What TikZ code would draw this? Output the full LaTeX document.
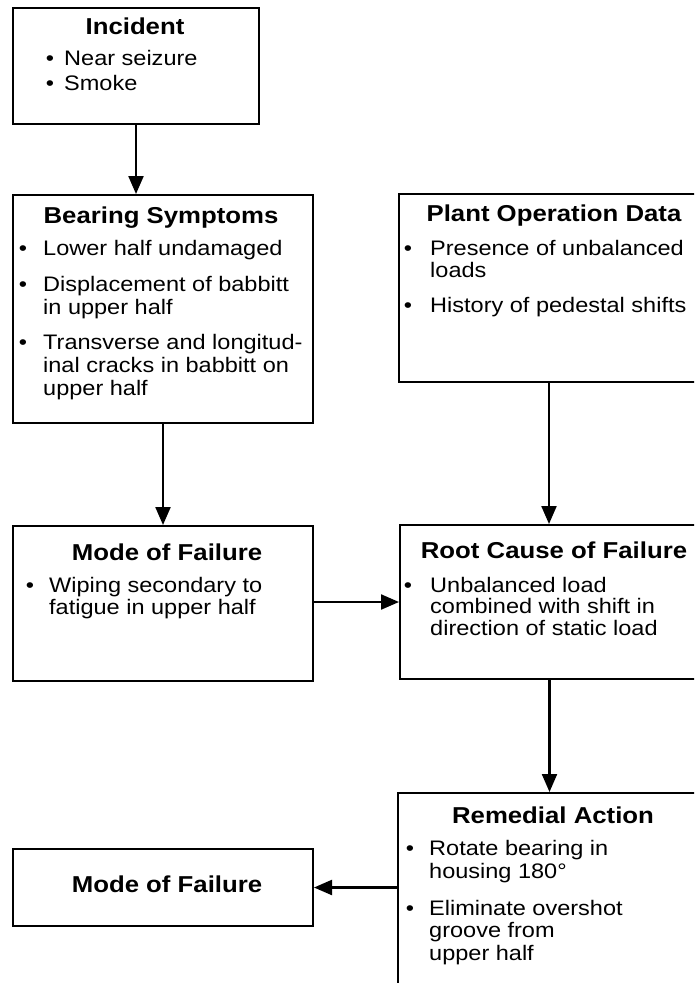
\documentclass[tikz,border=0pt]{standalone}
\usepackage{fontspec}
\setmainfont[FakeStretch=1.12]{Liberation Sans}
\usetikzlibrary{arrows.meta}
\tikzset{
  box/.style={draw=black, line width=2pt, fill=none, inner sep=0pt, anchor=north west},
  ttl/.style={font=\bfseries\fontsize{23}{24}\selectfont, inner sep=0pt, anchor=base},
  txt/.style={font=\fontsize{21}{22}\selectfont, inner sep=0pt, anchor=base west},
  bul/.style={font=\fontsize{21}{22}\selectfont, inner sep=0pt, anchor=base},
  arr/.style={line width=2.2pt, -{Triangle[length=18pt,width=15pt]}}
}
\begin{document}
\begin{tikzpicture}[x=1pt,y=-1pt]
\useasboundingbox (0,0) rectangle (694,983);
\clip (0,0) rectangle (694,983);
% boxes
\node[box, minimum width=246pt, minimum height=116pt] (inc) at (12,7) {};
\node[box, minimum width=300pt, minimum height=228pt] (bs) at (12,194) {};
\node[box, minimum width=300pt, minimum height=188pt] (pod) at (398,193) {};
\node[box, minimum width=300pt, minimum height=155pt] (mof) at (12,525) {};
\node[box, minimum width=299pt, minimum height=154pt] (rc) at (399,524) {};
\node[box, minimum width=301pt, minimum height=210pt] (ra) at (397,792) {};
\node[box, minimum width=300pt, minimum height=77pt] (mof2) at (12,848) {};
% Incident
\node[ttl] (inc-t) at (135,34) {Incident};
\node[bul] (inc-b1) at (50,65) {\textbullet};
\node[txt] (inc-1) at (64,65) {Near seizure};
\node[bul] (inc-b2) at (50,90) {\textbullet};
\node[txt] (inc-2) at (64,90) {Smoke};
% Bearing Symptoms
\node[ttl] (bs-t) at (161,223) {Bearing Symptoms};
\node[bul] (bs-b1) at (23,255) {\textbullet};
\node[txt] (bs-1) at (43,255) {Lower half undamaged};
\node[bul] (bs-b2) at (23,291) {\textbullet};
\node[txt] (bs-2) at (43,291) {Displacement of babbitt};
\node[txt] (bs-3) at (43,314) {in upper half};
\node[bul] (bs-b3) at (23,349) {\textbullet};
\node[txt] (bs-4) at (43,349) {Transverse and longitud-};
\node[txt] (bs-5) at (43,372) {inal cracks in babbitt on};
\node[txt] (bs-6) at (43,395) {upper half};
% Plant Operation Data
\node[ttl] (pod-t) at (554,221) {Plant Operation Data};
\node[bul] (pod-b1) at (408,255) {\textbullet};
\node[txt] (pod-1) at (430,255) {Presence of unbalanced};
\node[txt] (pod-2) at (430,277) {loads};
\node[bul] (pod-b2) at (408,312) {\textbullet};
\node[txt] (pod-3) at (430,312) {History of pedestal shifts};
% Mode of Failure
\node[ttl] (mof-t) at (167,560) {Mode of Failure};
\node[bul] (mof-b1) at (30,592) {\textbullet};
\node[txt] (mof-1) at (49,592) {Wiping secondary to};
\node[txt] (mof-2) at (49,614) {fatigue in upper half};
% Root Cause
\node[ttl] (rc-t) at (554,558) {Root Cause of Failure};
\node[bul] (rc-b1) at (408,592) {\textbullet};
\node[txt] (rc-1) at (430,592) {Unbalanced load};
\node[txt] (rc-2) at (430,613) {combined with shift in};
\node[txt] (rc-3) at (430,635) {direction of static load};
% Remedial Action
\node[ttl] (ra-t) at (553,823) {Remedial Action};
\node[bul] (ra-b1) at (410,855) {\textbullet};
\node[txt] (ra-1) at (429,855) {Rotate bearing in};
\node[txt] (ra-2) at (429,878) {housing 180°};
\node[bul] (ra-b2) at (410,915) {\textbullet};
\node[txt] (ra-3) at (429,915) {Eliminate overshot};
\node[txt] (ra-4) at (429,937) {groove from};
\node[txt] (ra-5) at (429,960) {upper half};
% Mode of Failure (lower)
\node[ttl] (mof2-t) at (167,892) {Mode of Failure};
% connectors
\draw[arr] (inc.south) -- (inc.south |- bs.north);
\draw[arr] (bs.south) -- (bs.south |- mof.north);
\draw[arr] (pod.south) -- (pod.south |- rc.north);
\draw[arr] (mof.east |- 0,602) -- (rc.west |- 0,602);
\draw[arr] (rc.south) -- (rc.south |- ra.north);
\draw[arr] (ra.west |- mof2.east) -- (mof2.east);
\end{tikzpicture}
\end{document}
